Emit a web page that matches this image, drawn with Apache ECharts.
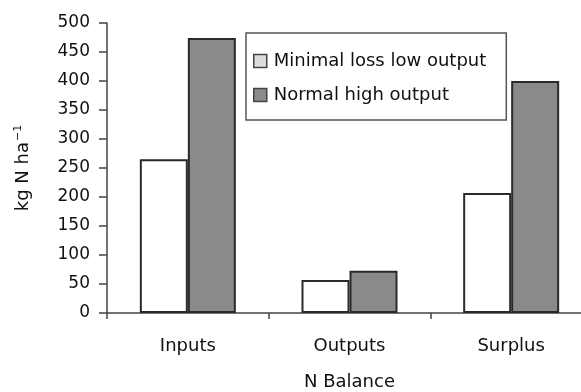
<!DOCTYPE html>
<html>
<head>
<meta charset="utf-8">
<script src="https://cdn.jsdelivr.net/npm/echarts@6/dist/echarts.min.js"></script>
<style>
  html, body { margin: 0; padding: 0; background: #fff; }
  #chart { width: 581px; height: 392px; }
</style>
</head>
<body>
<div id="chart"></div>
<script>
// N balance per hectare for two farming scenarios
const categories = ['Inputs', 'Outputs', 'Surplus'];
const seriesNames = ['Minimal loss low output', 'Normal high output'];
const lowOutput = [265, 57, 207];
const highOutput = [474, 73, 400];
const yTicks = { min: 0, max: 500, interval: 50 };

const FONT = 'DejaVu Sans';
const TEXT = '#111';
const AXIS = '#444';
const EDGE = '#2a2a2a';

const chart = echarts.init(document.getElementById('chart'), null, { renderer: 'canvas' });

chart.setOption({
  animation: false,
  backgroundColor: '#fff',
  // the plot runs a little past the right edge of the canvas
  grid: {
    left: 107, width: 485, top: 23, bottom: 79,
    containLabel: false,
    outerBoundsMode: 'none'
  },
  legend: {
    left: 246,
    top: 33,
    orient: 'vertical',
    padding: [19, 20, 16, 7],
    itemGap: 16,
    itemWidth: 13,
    itemHeight: 13,
    backgroundColor: '#fff',
    borderColor: '#555',
    borderWidth: 1.5,
    borderRadius: 0,
    textStyle: { fontFamily: FONT, fontSize: 18, color: TEXT, padding: [0, 0, 0, 2] },
    data: [
      { name: seriesNames[0], icon: 'rect', itemStyle: { color: '#dcdcdc', borderColor: '#444', borderWidth: 1.5 } },
      { name: seriesNames[1], icon: 'rect', itemStyle: { color: '#8a8a8a', borderColor: '#444', borderWidth: 1.5 } }
    ]
  },
  xAxis: {
    type: 'category',
    data: categories,
    name: 'N Balance',
    nameLocation: 'middle',
    nameGap: 60,
    nameTextStyle: { fontFamily: FONT, fontSize: 18, color: TEXT },
    axisLine: { lineStyle: { color: AXIS, width: 1.5 } },
    axisTick: { show: true, alignWithLabel: false, length: 6, lineStyle: { color: AXIS, width: 1.5 } },
    axisLabel: { fontFamily: FONT, fontSize: 18, color: TEXT, margin: 24 },
    splitLine: { show: false }
  },
  yAxis: {
    type: 'value',
    min: yTicks.min,
    max: yTicks.max,
    interval: yTicks.interval,
    name: '{b|kg N ha}{s|−1}',
    nameLocation: 'middle',
    nameGap: 73,
    nameRotate: 90,
    nameTextStyle: {
      rich: {
        b: { fontFamily: FONT, fontSize: 18, color: TEXT },
        s: { fontFamily: FONT, fontSize: 11, color: TEXT, verticalAlign: 'top', padding: [0, 0, 10, 1] }
      }
    },
    axisLine: { show: true, lineStyle: { color: AXIS, width: 1.5 } },
    axisTick: { show: true, length: 8, lineStyle: { color: AXIS, width: 1.5 } },
    axisLabel: { fontFamily: FONT, fontSize: 17, color: TEXT, margin: 17 },
    splitLine: { show: false }
  },
  series: [
    {
      name: seriesNames[0],
      type: 'bar',
      data: lowOutput,
      barWidth: 48,
      barGap: '0%',
      itemStyle: { color: '#ffffff', borderColor: EDGE, borderWidth: 2 }
    },
    {
      name: seriesNames[1],
      type: 'bar',
      data: highOutput,
      barWidth: 48,
      barGap: '0%',
      itemStyle: { color: '#8a8a8a', borderColor: EDGE, borderWidth: 2 }
    }
  ]
});
</script>
</body>
</html>
